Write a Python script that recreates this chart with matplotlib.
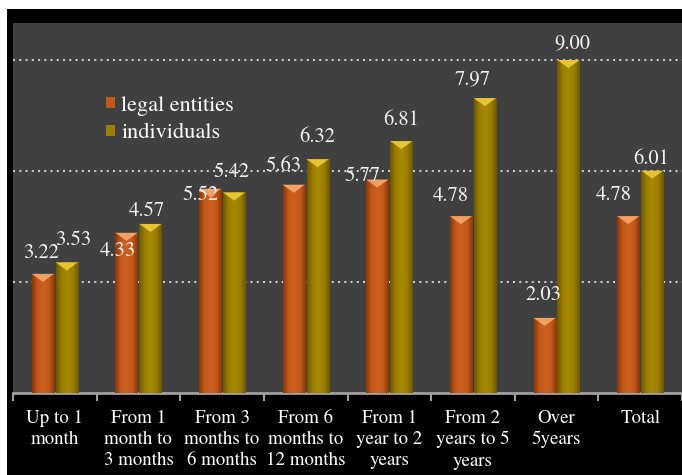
import numpy as np
import matplotlib.pyplot as plt
from matplotlib.patches import Rectangle, Polygon
from matplotlib.colors import LinearSegmentedColormap

# data
categories = ['Up to 1\nmonth', 'From 1\nmonth to\n3 months', 'From 3\nmonths to\n6 months',
              'From 6\nmonths to\n12 months', 'From 1\nyear to 2\nyears', 'From 2\nyears to 5\nyears',
              'Over\n5years', 'Total']
legal = [3.22, 4.33, 5.52, 5.63, 5.77, 4.78, 2.03, 4.78]
indiv = [3.53, 4.57, 5.42, 6.32, 6.81, 7.97, 9.00, 6.01]

# where each value label sits relative to its bar top (pixels)
legal_shift = [(-2, 21), (-9, -18), (-10, -6), (-10, 19), (-15, 3), (-10, 20), (-1, 23), (-14, 21)]
indiv_shift = [(6, 22), (-4, 13), (-3, 20), (0, 22), (0, 21), (-12, 19), (4, 17), (-1, 12)]

plt.rcParams['font.family'] = 'serif'
plt.rcParams['font.serif'] = ['TeX Gyre Termes', 'Liberation Serif', 'Times New Roman', 'DejaVu Serif']

fig = plt.figure(figsize=(6.82, 4.75), dpi=100)
fig.patch.set_facecolor('white')
fig.patches.append(Rectangle((7/682, 0), 1, 466/475, transform=fig.transFigure,
                             facecolor='black', zorder=-5))
ax = fig.add_axes([13/682, 82/475, 669/682, 370/475])
ax.set_facecolor('#404040')

x = np.arange(len(categories))
w = 0.265
off = 0.143

orange_cmap = LinearSegmentedColormap.from_list('o', ['#8a3608', '#c45a1c', '#cc601f', '#c45a1c', '#8a3608'])
gold_cmap = LinearSegmentedColormap.from_list('g', ['#6e5700', '#9c7e00', '#a88a04', '#9c7e00', '#6e5700'])
grad = np.linspace(0, 1, 64).reshape(1, -1)

b1 = ax.bar(x - off, legal, w, color='#c05818', label='legal entities', zorder=2)
b2 = ax.bar(x + off, indiv, w, color='#9c7d00', label='individuals', zorder=2)

px = 36.8  # pixels per data unit on y
for bars, cmap, cap in [(b1, orange_cmap, '#f2a064'), (b2, gold_cmap, '#e6c432')]:
    for p in bars:
        x0, h = p.get_x(), p.get_height()
        im = ax.imshow(grad, extent=[x0, x0 + w, 0, h], cmap=cmap, aspect='auto', zorder=3)
        im.set_clip_path(p)
        tri = Polygon([(x0, h), (x0 + w, h), (x0 + w / 2, h - 8 / px)],
                      closed=True, facecolor=cap, edgecolor='none', zorder=4)
        ax.add_patch(tri)

for i in range(len(categories)):
    ax.annotate(f'{legal[i]:.2f}', (x[i] - off, legal[i]), xytext=legal_shift[i],
                textcoords='offset pixels', ha='center', va='center',
                color='#f0f0f0', fontsize=14.8, zorder=5)
    ax.annotate(f'{indiv[i]:.2f}', (x[i] + off, indiv[i]), xytext=indiv_shift[i],
                textcoords='offset pixels', ha='center', va='center',
                color='#f0f0f0', fontsize=14.8, zorder=5)

ax.set_xlim(-0.5, len(categories) - 0.5)
ax.set_ylim(0, 10)

ax.set_yticks([3, 6, 9])
ax.set_yticklabels([])
ax.tick_params(axis='y', length=0)
ax.yaxis.grid(True, linestyle=(0, (1, 2)), color='#c8c8c8', linewidth=1.5)
ax.set_axisbelow(True)

ax.set_xticks(np.arange(-0.5, len(categories), 1))
ax.set_xticklabels([])
ax.tick_params(axis='x', which='major', length=6, width=1.5, color='#a0a0a0')
ax.set_xticks(x, minor=True)
ax.set_xticklabels(categories, minor=True, fontsize=13.6, color='white', linespacing=1.3)
ax.tick_params(axis='x', which='minor', length=0, pad=12)

for s in ['top', 'right', 'left']:
    ax.spines[s].set_visible(False)
ax.spines['bottom'].set_color('#a0a0a0')
ax.spines['bottom'].set_linewidth(2)

leg = ax.legend(loc='upper left', bbox_to_anchor=(0.122, 0.833), frameon=False,
                fontsize=16, handlelength=0.4, handleheight=0.4, handletextpad=0.3,
                labelspacing=0.35, borderpad=0, labelcolor='white')

plt.savefig('out.png', dpi=100, facecolor=fig.get_facecolor())
